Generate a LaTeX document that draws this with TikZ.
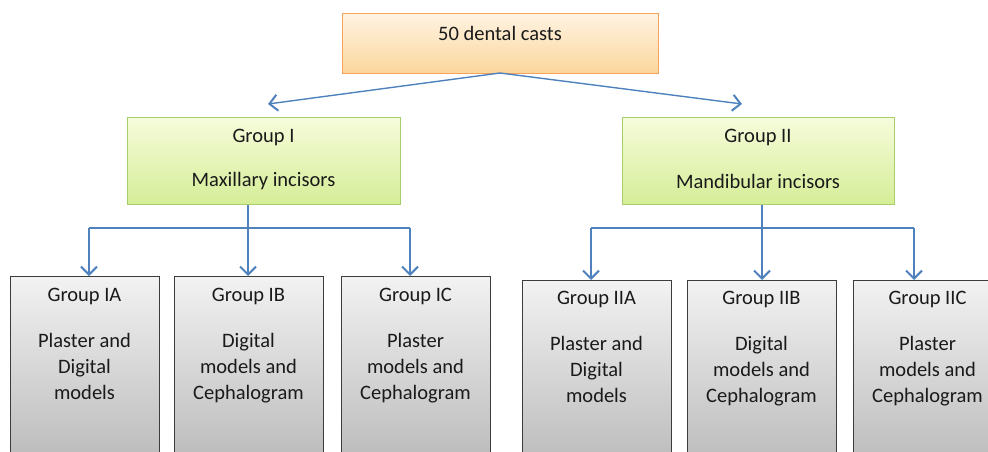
\documentclass[tikz,border=0pt]{standalone}
\usepackage{fontspec}
\setmainfont{Carlito}
\usetikzlibrary{arrows.meta}
\definecolor{lineblue}{HTML}{4F81BD}
\definecolor{orgborder}{HTML}{F7A35C}
\definecolor{orgtop}{HTML}{FFF3E2}
\definecolor{orgbot}{HTML}{FBD69C}
\definecolor{grnborder}{HTML}{A9CE6C}
\definecolor{grntop}{HTML}{F6FCDB}
\definecolor{grnbot}{HTML}{D5ED97}
\definecolor{grytop}{HTML}{F2F2F2}
\definecolor{grybot}{HTML}{BBBBBB}
\definecolor{gryborder}{HTML}{3C3C3C}
\definecolor{txtc}{HTML}{1A1A1A}
\tikzset{
  orgbox/.style={draw=orgborder, line width=1.2pt, top color=orgtop, bottom color=orgbot, inner sep=0pt},
  grnbox/.style={draw=grnborder, line width=1.2pt, top color=grntop, bottom color=grnbot, inner sep=0pt},
  grybox/.style={draw=gryborder, line width=1.3pt, top color=grytop, bottom color=grybot, inner sep=0pt, minimum width=149pt, minimum height=185pt, anchor=north west},
  txt/.style={font=\fontsize{20.5pt}{26pt}\selectfont, text=txtc, align=center, inner sep=0pt},
  conn/.style={draw=lineblue, line width=1.4pt},
  arr/.style={conn, -{Straight Barb[length=8pt,width=16pt,line width=2pt]}}
}
\begin{document}
\begin{tikzpicture}[x=1pt,y=-1pt]
\useasboundingbox (0,0) rectangle (988,452);
\clip (0,0) rectangle (988,452);
% top
\node[orgbox, minimum width=316pt, minimum height=60pt, anchor=north west] (top) at (342,13) {};
\node[txt] (toptxt) at (500,33) {50 dental casts};
% group boxes
\node[grnbox, minimum width=273pt, minimum height=87pt, anchor=north west] (g1) at (127,117) {};
\node[txt] (g1a) at (263.5,137) {Group I};
\node[txt] (g1b) at (263.5,181) {Maxillary incisors};
\node[grnbox, minimum width=272pt, minimum height=87pt, anchor=north west] (g2) at (622,117) {};
\node[txt] (g2a) at (758,137) {Group II};
\node[txt] (g2b) at (758,181) {Mandibular incisors};
% arrows from top
\coordinate (topb) at (500,73);
\coordinate (t1) at (268,104);
\coordinate (t2) at (742,104);
\draw[arr] (topb) -- (t1);
\draw[arr] (topb) -- (t2);
% bottom boxes
\node[grybox] (ia) at (10,276) {};
\node[grybox] (ib) at (174,276) {};
\node[grybox] (ic) at (341,276) {};
\node[grybox] (iia) at (522,280) {};
\node[grybox] (iib) at (687,280) {};
\node[grybox] (iic) at (853,280) {};
\node[txt] (iat) at (84.5,296) {Group IA};
\node[txt, anchor=north] (iad) at (84.5,333) {Plaster and\\Digital\\models};
\node[txt] (ibt) at (248.5,296) {Group IB};
\node[txt, anchor=north] (ibd) at (248.5,333) {Digital\\models and\\Cephalogram};
\node[txt] (ict) at (415.5,296) {Group IC};
\node[txt, anchor=north] (icd) at (415.5,333) {Plaster\\models and\\Cephalogram};
\node[txt] (iiat) at (596.5,299) {Group IIA};
\node[txt, anchor=north] (iiad) at (596.5,336) {Plaster and\\Digital\\models};
\node[txt] (iibt) at (761.5,299) {Group IIB};
\node[txt, anchor=north] (iibd) at (761.5,336) {Digital\\models and\\Cephalogram};
\node[txt] (iict) at (927.5,299) {Group IIC};
\node[txt, anchor=north] (iicd) at (927.5,336) {Plaster\\models and\\Cephalogram};
% connectors group I
\coordinate (j1) at (248,228);
\coordinate (l1) at (89,228);
\coordinate (r1) at (410,228);
\draw[conn] (g1.south -| j1) -- (j1);
\draw[conn] (l1) -- (r1);
\draw[arr] (l1) -- (l1 |- ia.north);
\draw[arr] (j1) -- (j1 |- ib.north);
\draw[arr] (r1) -- (r1 |- ic.north);
% connectors group II
\coordinate (j2) at (762,228);
\coordinate (l2) at (591,228);
\coordinate (r2) at (914,228);
\draw[conn] (g2.south -| j2) -- (j2);
\draw[conn] (l2) -- (r2);
\draw[arr] (l2) -- (l2 |- iia.north);
\draw[arr] (j2) -- (j2 |- iib.north);
\draw[arr] (r2) -- (r2 |- iic.north);
\end{tikzpicture}
\end{document}
